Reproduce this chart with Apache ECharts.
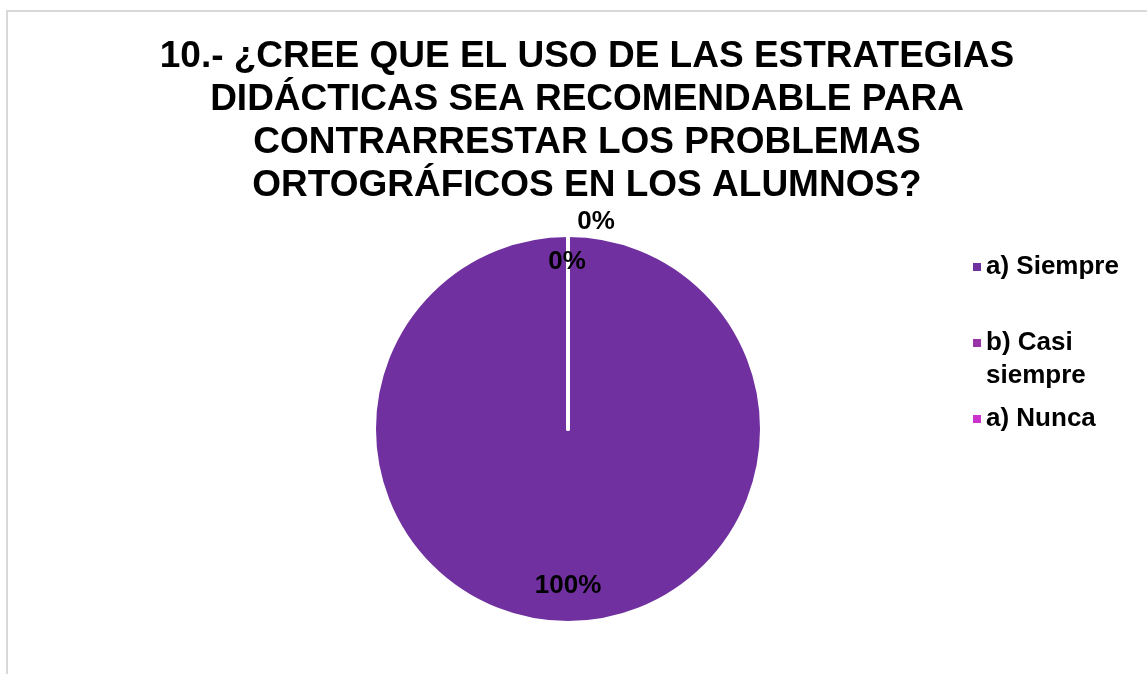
<!DOCTYPE html>
<html>
<head>
<meta charset="utf-8">
<script src="https://cdn.jsdelivr.net/npm/echarts@6/dist/echarts.min.js"></script>
<style>
html,body{margin:0;padding:0;background:#fff;}
#chart{position:absolute;left:0;top:0;width:1147px;height:674px;}
#frame{position:absolute;left:6px;top:10px;width:1400px;height:900px;border-left:2px solid #d9d9d9;border-top:2px solid #d9d9d9;pointer-events:none;}
</style>
</head>
<body>
<div id="chart"></div>
<div id="frame"></div>
<script>
const titleLines = [
  '10.- ¿CREE QUE EL USO DE LAS ESTRATEGIAS',
  'DIDÁCTICAS SEA RECOMENDABLE PARA',
  'CONTRARRESTAR LOS PROBLEMAS',
  'ORTOGRÁFICOS EN LOS ALUMNOS?'
];
const categories = ['a) Siempre', 'b) Casi siempre', 'a) Nunca'];
const legendLabels = ['a) Siempre', '\nb) Casi\nsiempre', 'a) Nunca'];
const values = [100, 0, 0];
const percentLabels = ['100%', '0%', '0%'];
const colors = ['#7030a0', '#9933a8', '#cc33cc'];

const chart = echarts.init(document.getElementById('chart'), null, {renderer: 'canvas'});
const font = 'Liberation Sans, Arial, sans-serif';
const labelOffsets = [[0, 57], [-1, -67], [28, -107]];
const legendTops = [245.5, 288.5, 397.5];

const legends = categories.map((c, i) => ({
  orient: 'vertical',
  left: 968,
  top: legendTops[i],
  itemWidth: 8,
  itemHeight: 8,
  icon: 'rect',
  itemStyle: {borderWidth: 0},
  data: [c],
  formatter: () => legendLabels[i],
  textStyle: {
    fontFamily: font, fontWeight: 'bold', fontSize: 26, color: '#000',
    lineHeight: 33
  },
  selectedMode: false
}));

chart.setOption({
  animation: false,
  color: colors,
  title: {
    text: titleLines.join('\n'),
    left: 582,
    top: 30,
    textAlign: 'center',
    textStyle: {fontFamily: font, fontWeight: 'bold', fontSize: 37, lineHeight: 43, color: '#000'}
  },
  legend: legends,
  series: [{
    type: 'pie',
    center: [568, 429],
    radius: 194,
    startAngle: 90,
    clockwise: true,
    avoidLabelOverlap: false,
    itemStyle: {borderColor: '#fff', borderWidth: 4},
    label: {show: true, position: 'inside', fontFamily: font, fontWeight: 'bold', fontSize: 26, color: '#000'},
    labelLine: {show: false},
    emphasis: {disabled: true},
    data: categories.map((c, i) => ({
      name: c,
      value: values[i],
      label: {formatter: percentLabels[i], offset: labelOffsets[i]}
    }))
  }]
});
</script>
</body>
</html>
